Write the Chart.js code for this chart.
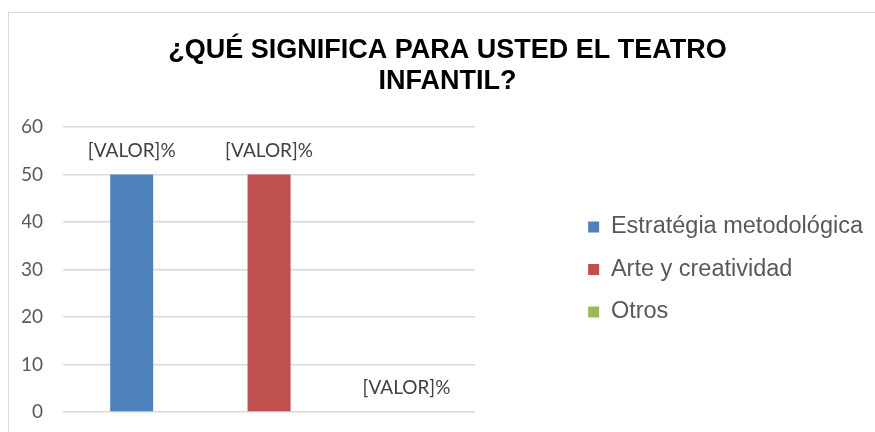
<!DOCTYPE html>
<html lang="es">
<head>
<meta charset="utf-8">
<title>¿Qué significa para usted el teatro infantil?</title>
<script src="https://cdn.jsdelivr.net/npm/chart.js@4.4.1/dist/chart.umd.min.js"></script>
<style>
  html, body { margin: 0; padding: 0; background: #fff; overflow: hidden; }
  #wrap { position: relative; width: 875px; height: 432px; }
  #frame { position: absolute; left: 8px; top: 12px; width: 900px; height: 460px; border: 1px solid #d9d9d9; }
  #chart { position: absolute; left: 0; top: 0; }
</style>
</head>
<body>
<div id="wrap">
  <div id="frame"></div>
  <canvas id="chart" width="875" height="432"></canvas>
</div>
<script>
// ——— Data ———
var titleLines = ["¿QUÉ SIGNIFICA PARA USTED EL TEATRO", "INFANTIL?"];
var categories = [""];
var seriesNames = ["Estratégia metodológica", "Arte y creatividad", "Otros"];
var seriesValues = [50, 50, 0];
var valueLabels = ["[VALOR]%", "[VALOR]%", "[VALOR]%"];
var seriesColors = ["#4f81bd", "#c0504d", "#9bbb59"];
var yTicks = [0, 10, 20, 30, 40, 50, 60];

var labelFont = "Lato, 'Open Sans', sans-serif";
var textFont = "'Liberation Sans', Arial, sans-serif";

// ——— Value labels above bars ———
var valueLabelPlugin = {
  id: "valueLabels",
  afterDatasetsDraw: function (chart) {
    var ctx = chart.ctx;
    ctx.save();
    ctx.font = "19px " + labelFont;
    ctx.fillStyle = "#404040";
    ctx.textAlign = "center";
    ctx.textBaseline = "alphabetic";
    chart.data.datasets.forEach(function (ds, i) {
      var bar = chart.getDatasetMeta(i).data[0];
      if (!bar) return;
      ctx.fillText(valueLabels[i], bar.x, bar.y - 18);
    });
    ctx.restore();
  }
};

var datasets = seriesNames.map(function (name, i) {
  return {
    label: name,
    data: [seriesValues[i]],
    backgroundColor: seriesColors[i],
    borderWidth: 0,
    categoryPercentage: 1,
    barPercentage: 0.313
  };
});

new Chart(document.getElementById("chart"), {
  type: "bar",
  data: { labels: categories, datasets: datasets },
  plugins: [valueLabelPlugin],
  options: {
    responsive: false,
    animation: false,
    layout: { padding: { top: 35, left: 22, right: 2, bottom: 20 } },
    scales: {
      x: { display: false },
      y: {
        min: 0,
        max: 60,
        afterBuildTicks: function (s) { s.ticks = yTicks.map(function (v) { return { value: v }; }); },
        afterFit: function (s) {
          s.width = 41;
          // tick padding is only meant horizontally here
          s.paddingTop = 0;
          s.paddingBottom = 0;
        },
        grid: { color: "#d9d9d9", lineWidth: 1.5, drawTicks: false },
        border: { display: false },
        ticks: { padding: 20, color: "#595959", font: { family: labelFont, size: 19 } }
      },
      gap: {
        type: "linear",
        position: "right",
        grid: { display: false },
        border: { display: false },
        ticks: { display: false },
        afterFit: function (s) { s.width = 94; }
      }
    },
    plugins: {
      title: {
        display: true,
        text: titleLines,
        color: "#000",
        font: { family: textFont, size: 27, weight: "bold", lineHeight: 1.15 },
        padding: { top: 0, bottom: 29.9 }
      },
      legend: {
        position: "right",
        fullSize: false,
        maxWidth: 320,
        labels: {
          boxWidth: 11,
          boxHeight: 11,
          padding: 19,
          color: "#595959",
          font: { family: textFont, size: 23.5 }
        }
      },
      tooltip: { enabled: false }
    }
  }
});
</script>
</body>
</html>
